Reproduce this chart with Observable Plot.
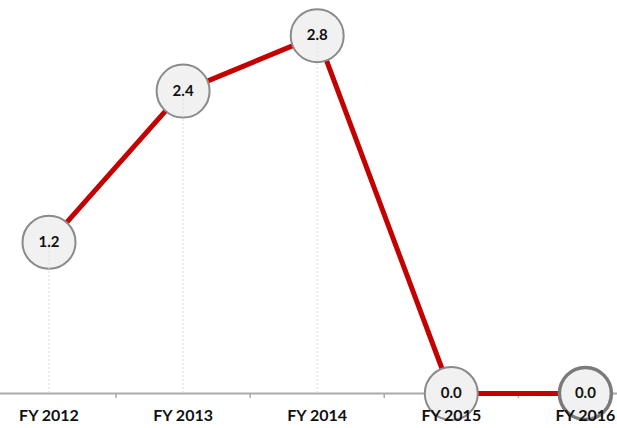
<!DOCTYPE html>
<html>
<head>
<meta charset="utf-8">
<script src="https://cdn.jsdelivr.net/npm/d3@7"></script>
<script src="https://cdn.jsdelivr.net/npm/@observablehq/plot@0.6"></script>
<style>
  html, body { margin: 0; padding: 0; background: #fff; }
</style>
</head>
<body>
<div id="chart"></div>
<script>
const categories = ["FY 2012", "FY 2013", "FY 2014", "FY 2015", "FY 2016"];
const values = [1.2, 2.4, 2.84, 0, 0];
const highlighted = "FY 2016";

const data = categories.map((c, i) => ({i, category: c, value: values[i]}));
const indices = data.map(d => d.i);
const boundaries = indices.slice(1).map(i => i - 0.5);

const plot = Plot.plot({
  width: 617,
  height: 428,
  marginLeft: 0,
  marginRight: 0,
  marginTop: 0,
  marginBottom: 35,
  style: {fontFamily: "Lato, sans-serif", background: "#fff", overflow: "visible"},
  x: {type: "linear", domain: [-0.3617, 4.2394], axis: null, label: null},
  y: {domain: [0, 3.119], axis: null, label: null},
  marks: [
    Plot.ruleY([0], {stroke: "#aaa", strokeWidth: 2}),
    Plot.axisX(boundaries, {tickSize: 5, tickFormat: () => "", label: null, stroke: "#aaa", strokeWidth: 1.5}),
    Plot.lineY(data, {x: "i", y: "value", stroke: "#c40000", strokeWidth: 5}),
    Plot.dot(data.filter(d => d.category !== highlighted), {x: "i", y: "value", r: 26.5, fill: "#f1f1f1", stroke: "#8a8a8a", strokeWidth: 2}),
    Plot.dot(data.filter(d => d.category === highlighted), {x: "i", y: "value", r: 26, fill: "#f1f1f1", stroke: "#7a7a7a", strokeWidth: 3.5}),
    Plot.ruleX(data, {x: "i", y1: 0, y2: "value", stroke: "#dedede", strokeWidth: 1, strokeDasharray: "2,2"}),
    Plot.text(data, {x: "i", y: "value", text: d => d.value.toFixed(1), fontSize: 15, fontWeight: "bold", fill: "#111"}),
    Plot.axisX(indices, {tickSize: 0, tickPadding: 16, label: null, tickFormat: i => categories[i], fontSize: 16, fontWeight: "bold", fill: "#111", stroke: null})
  ]
});
document.getElementById("chart").appendChild(plot);
</script>
</body>
</html>
